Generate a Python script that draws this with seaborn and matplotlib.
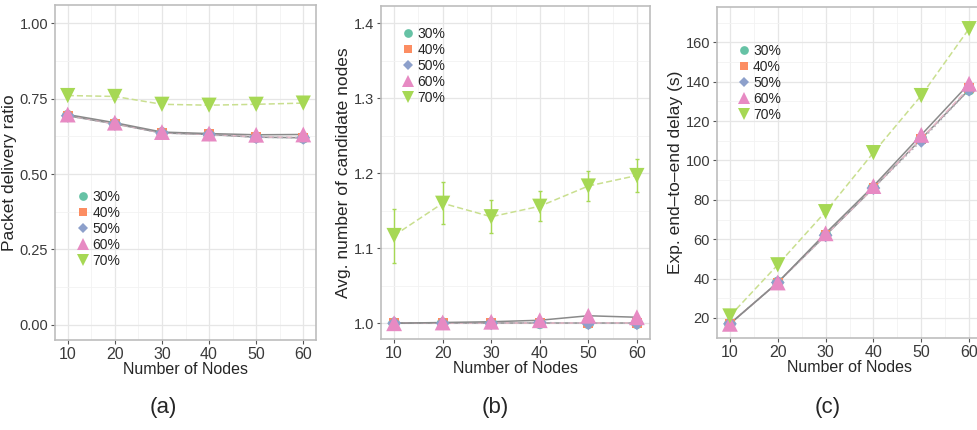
import numpy as np
import pandas as pd
import matplotlib
matplotlib.use("Agg")
import matplotlib.pyplot as plt
from matplotlib.ticker import MultipleLocator, FormatStrFormatter
import seaborn as sns

nodes = [10, 20, 30, 40, 50, 60]
groups = ["30%", "40%", "50%", "60%", "70%"]

# (a) packet delivery ratio
pdr_30 = [0.693, 0.666, 0.636, 0.631, 0.622, 0.620]
pdr_40 = [0.694, 0.667, 0.637, 0.632, 0.623, 0.621]
pdr_50 = [0.693, 0.666, 0.636, 0.631, 0.622, 0.620]
pdr_60 = [0.697, 0.670, 0.639, 0.634, 0.630, 0.631]
pdr_70 = [0.760, 0.757, 0.731, 0.728, 0.731, 0.735]

# (b) avg number of candidate nodes
cand_30 = [1.000, 1.000, 1.000, 1.000, 1.000, 1.000]
cand_40 = [1.000, 1.000, 1.000, 1.000, 1.000, 1.000]
cand_50 = [1.000, 1.000, 1.000, 1.001, 1.000, 1.000]
cand_60 = [1.000, 1.001, 1.002, 1.004, 1.010, 1.008]
cand_70 = [1.117, 1.160, 1.142, 1.156, 1.183, 1.197]
cand_70_err = [0.036, 0.028, 0.022, 0.020, 0.020, 0.022]

# (c) expected end-to-end delay
delay_30 = [17, 38, 62, 86, 111, 136]
delay_40 = [17, 38, 62, 86, 111, 137]
delay_50 = [17, 38, 62, 86, 110, 136]
delay_60 = [17, 38, 63, 87, 113, 139]
delay_70 = [21, 47, 74, 104, 133, 167]

palette = dict(zip(groups, ["#66c2a5", "#fc8d62", "#8da0cb", "#e78ac3", "#a6d854"]))
line_colors = dict(zip(groups, ["#8f8f8f", "#e9b8c8", "#b0b0b8", "#8a8a8a", "#c9df8f"]))
markers = dict(zip(groups, ["o", "s", "D", "^", "v"]))
marker_sizes = dict(zip(groups, [70, 50, 50, 130, 120]))
dashes = dict(zip(groups, ["", (4, 2), (1, 2), "", (4, 2)]))

def frame(series):
    rows = []
    for g, vals in zip(groups, series):
        for n, v in zip(nodes, vals):
            rows.append({"nodes": n, "value": v, "grp": g})
    return pd.DataFrame(rows)

sns.set_theme(style="white")
plt.rcParams["font.family"] = ["Liberation Sans Narrow", "Liberation Sans", "DejaVu Sans"]

fig = plt.figure(figsize=(9.77, 4.30), dpi=100)
W, H = 977.0, 430.0
def pos(l, r, t, b):
    return [l / W, (H - b) / H, (r - l) / W, (b - t) / H]

ax_a = fig.add_axes(pos(55, 316, 5, 340))
ax_b = fig.add_axes(pos(381, 650, 6, 339))
ax_c = fig.add_axes(pos(717, 982, 7, 338))

panels = [
    (ax_a, frame([pdr_30, pdr_40, pdr_50, pdr_60, pdr_70]), "Packet delivery ratio",
     (-0.05, 1.06), 0.25, 0.125, "%.2f", (0.06, 0.465)),
    (ax_b, frame([cand_30, cand_40, cand_50, cand_60, cand_70]), "Avg. number of candidate nodes",
     (0.979, 1.423), 0.1, 0.05, "%.1f", (0.055, 0.955)),
    (ax_c, frame([delay_30, delay_40, delay_50, delay_60, delay_70]), "Exp. end–to–end delay (s)",
     (9.8, 178), 20, 10, "%d", (0.055, 0.905)),
]

for ax, df, ylabel, ylim, major, minor, fmt, legpos in panels:
    ax.set_xlim(7.3, 62.7)
    ax.set_ylim(*ylim)
    ax.xaxis.set_major_locator(MultipleLocator(10))
    ax.xaxis.set_minor_locator(MultipleLocator(5))
    ax.yaxis.set_major_locator(MultipleLocator(major))
    ax.yaxis.set_minor_locator(MultipleLocator(minor))
    ax.yaxis.set_major_formatter(FormatStrFormatter(fmt))
    ax.grid(True, which="major", color="#e6e6e6", linewidth=0.9)
    ax.grid(True, which="minor", color="#f2f2f2", linewidth=0.6)
    ax.set_axisbelow(True)
    for s in ax.spines.values():
        s.set_color("#bdbdbd")
        s.set_linewidth(1.2)
    sns.lineplot(data=df, x="nodes", y="value", hue="grp", style="grp",
                 palette=line_colors, dashes=dashes, linewidth=1.1,
                 ax=ax, legend=False, zorder=2)
    sns.scatterplot(data=df, x="nodes", y="value", hue="grp", style="grp", size="grp",
                    palette=palette, markers=markers, sizes=marker_sizes, linewidth=0,
                    ax=ax, zorder=3)
    ax.tick_params(axis="both", which="major", length=3, width=0.8, color="#555555",
                   labelsize=10.5, labelcolor="#3a3a3a", pad=2, bottom=True, left=True)
    ax.tick_params(axis="x", which="major", labelsize=11.5)
    ax.tick_params(which="minor", length=0)
    ax.set_xlabel("Number of Nodes", fontsize=11.5, labelpad=0)
    ax.set_ylabel(ylabel, fontsize=12.5, labelpad=2)
    h, l = ax.get_legend_handles_labels()
    ax.legend(h, l, loc="upper left", bbox_to_anchor=legpos, frameon=False,
              fontsize=10, handletextpad=0.15, labelspacing=0.15,
              borderaxespad=0, markerscale=0.75, handlelength=1.0)

ax_b.errorbar(nodes, cand_70, yerr=cand_70_err, fmt="none", ecolor="#a6d854",
              elinewidth=1.0, capsize=1.5, zorder=2)

fig.text(163 / W, 1 - 408 / H, "(a)", ha="center", va="center", fontsize=16)
fig.text(495 / W, 1 - 408 / H, "(b)", ha="center", va="center", fontsize=16)
fig.text(828 / W, 1 - 408 / H, "(c)", ha="center", va="center", fontsize=16)

fig.savefig("out.png", dpi=100)
